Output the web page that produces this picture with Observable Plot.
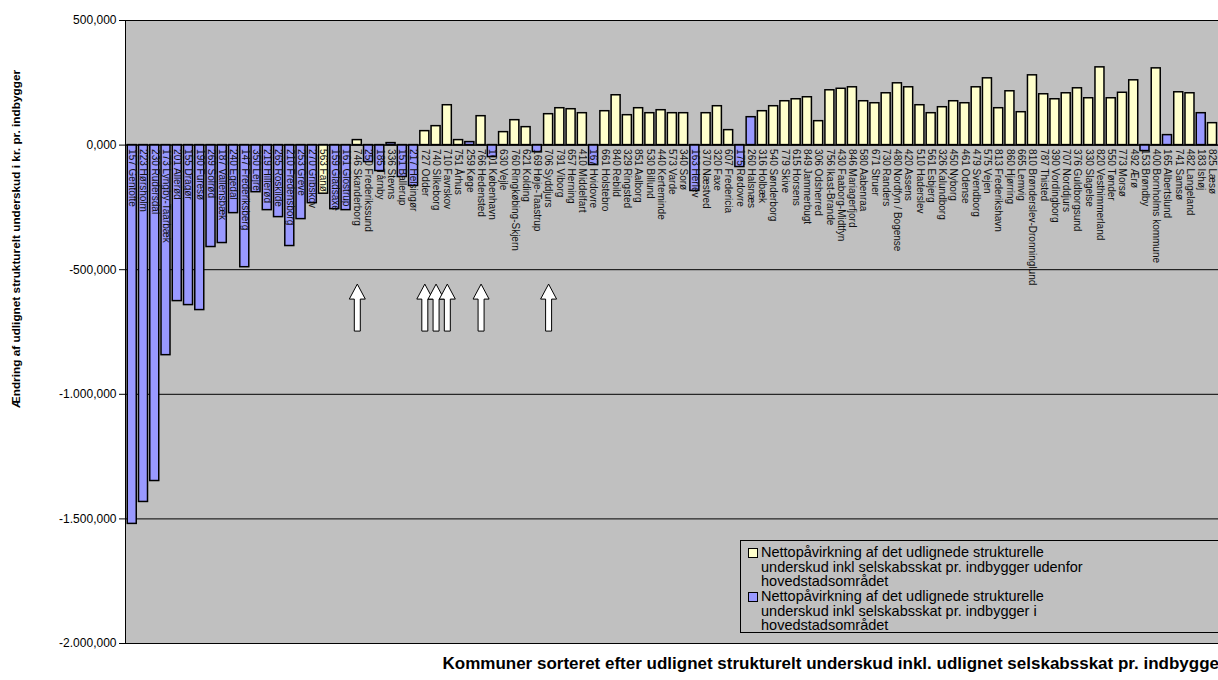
<!DOCTYPE html>
<html><head><meta charset="utf-8">
<script src="https://cdn.jsdelivr.net/npm/d3@7"></script>
<script src="https://cdn.jsdelivr.net/npm/@observablehq/plot@0.6"></script>
<style>
html,body{margin:0;padding:0;background:#fff;overflow:hidden;width:1218px;height:680px}
#wrap{position:relative;width:1240px;height:680px;font-family:"Liberation Sans",Arial,sans-serif}
#wrap svg{max-width:none !important;display:block}
#legend{position:absolute;left:740px;top:540px;width:500px;height:91px;border:1px solid #000;font-size:14.5px;line-height:14.5px;color:#000}
.item{position:absolute;left:7px;}
.sw{position:absolute;left:0;top:3px;width:8px;height:8px;border:1px solid #000}
.tx{position:absolute;left:13px;top:0;white-space:nowrap}
</style></head>
<body><div id="wrap"></div>
<script>
const municipalities = ["157 Gentofte","223 Hørsholm","230 Rudersdal","173 Lyngby-Taarbæk","201 Allerød","155 Dragør","190 Furesø","269 Solrød","187 Vallensbæk","240 Egedal","147 Frederiksberg","350 Lejre","219 Hillerød","265 Roskilde","210 Fredensborg","253 Greve","270 Gribskov","563 Fanø","159 Gladsaxe","161 Glostrup","746 Skanderborg","250 Frederikssund","185 Tårnby","336 Stevns","151 Ballerup","217 Helsingør","727 Odder","740 Silkeborg","710 Favrskov","751 Århus","259 Køge","766 Hedensted","101 København","630 Vejle","760 Ringkøbing-Skjern","621 Kolding","169 Høje-Taastrup","706 Syddjurs","791 Viborg","657 Herning","410 Middelfart","167 Hvidovre","661 Holstebro","840 Rebild","329 Ringsted","851 Aalborg","530 Billund","440 Kerteminde","573 Varde","340 Sorø","163 Herlev","370 Næstved","320 Faxe","607 Fredericia","175 Rødovre","260 Halsnæs","316 Holbæk","540 Sønderborg","779 Skive","615 Horsens","849 Jammerbugt","306 Odsherred","756 Ikast-Brande","430 Faaborg-Midtfyn","846 Mariagerfjord","580 Aabenraa","671 Struer","730 Randers","480 Nordfyn / Bogense","420 Assens","510 Haderslev","561 Esbjerg","326 Kalundborg","450 Nyborg","461 Odense","479 Svendborg","575 Vejen","813 Frederikshavn","860 Hjørring","665 Lemvig","810 Brønderslev-Dronninglund","787 Thisted","390 Vordingborg","707 Norddjurs","376 Guldborgsund","330 Slagelse","820 Vesthimmerland","550 Tønder","773 Morsø","492 Ærø","153 Brøndby","400 Bornholms kommune","165 Albertslund","741 Samsø","482 Langeland","183 Ishøj","825 Læsø"];
const values = [-1520000,-1432000,-1348000,-843000,-626000,-642000,-662000,-409000,-393000,-273000,-490000,-189000,-261000,-289000,-405000,-297000,-233000,-195000,-257000,-261000,20000,-68000,-104000,8000,-128000,-164000,56000,76000,160000,20000,12000,116000,-48000,52000,100000,72000,-28000,124000,148000,144000,128000,-80000,136000,200000,120000,148000,128000,140000,128000,128000,-184000,128000,156000,60000,-88000,112000,136000,156000,176000,184000,192000,96000,220000,226000,232000,176000,168000,208000,248000,232000,160000,128000,152000,176000,168000,232000,268000,148000,216000,132000,280000,204000,184000,208000,228000,188000,312000,188000,210000,260000,-24000,308000,40000,212000,208000,128000,88000];
// municipalities in hovedstadsområdet (blue)
const capitalArea = ["157 Gentofte","223 Hørsholm","230 Rudersdal","173 Lyngby-Taarbæk","201 Allerød","155 Dragør","190 Furesø","269 Solrød","187 Vallensbæk","240 Egedal","147 Frederiksberg","350 Lejre","219 Hillerød","265 Roskilde","210 Fredensborg","253 Greve","270 Gribskov","159 Gladsaxe","161 Glostrup","250 Frederikssund","185 Tårnby","336 Stevns","151 Ballerup","217 Helsingør","259 Køge","101 København","169 Høje-Taastrup","167 Hvidovre","163 Herlev","175 Rødovre","260 Halsnæs","153 Brøndby","165 Albertslund","183 Ishøj"];
// last category lies beyond the visible edge of the picture
const clippedCategories = ["360 Lolland"];
const arrowMunicipalities = ["746 Skanderborg","727 Odder","740 Silkeborg","710 Favrskov","766 Hedensted","706 Syddjurs"];
const arrowLevel = -650000;
const yTickValues = [500000,0,-500000,-1000000,-1500000,-2000000];
const yTickLabels = ["500,000","0,000","-500,000","-1.000,000","-1.500,000","-2.000,000"];
const yTitle = "Ændring af udlignet strukturelt underskud i kr. pr. indbygger";
const xTitle = "Kommuner sorteret efter udlignet strukturelt underskud inkl. udlignet selskabsskat pr. indbygger";
const legendLabels = [
  ["Nettopåvirkning af det udlignede strukturelle","underskud inkl selskabsskat pr. indbygger udenfor","hovedstadsområdet"],
  ["Nettopåvirkning af det udlignede strukturelle","underskud inkl selskabsskat pr. indbygger i","hovedstadsområdet"]
];
const colOut = "#ffffcc", colCap = "#9999ff";

const capSet = new Set(capitalArea);
const data = municipalities.map((m,i)=>({m, v: values[i], g: capSet.has(m) ? "cap" : "out"}));
const arrows = arrowMunicipalities.map(m=>({m, v: arrowLevel}));
const arrowSymbol = {draw(ctx){
  ctx.moveTo(0,-23); ctx.lineTo(8,-8); ctx.lineTo(3,-8); ctx.lineTo(3,24);
  ctx.lineTo(-3,24); ctx.lineTo(-3,-8); ctx.lineTo(-8,-8); ctx.closePath();
}};
const font = "Liberation Sans, Arial, sans-serif";

const chart = Plot.plot({
  width: 1230, height: 680,
  marginLeft: 125, marginRight: 0, marginTop: 20, marginBottom: 37,
  style: {fontFamily: font, background: "#fff", maxWidth: "none"},
  x: {domain: [...municipalities, ...clippedCategories], padding: 0.2, round: false, axis: null},
  y: {domain: [-2000000, 500000], axis: null},
  color: {domain: ["out","cap"], range: [colOut, colCap]},
  marks: [
    Plot.frame({fill: "#c0c0c0", stroke: null}),
    Plot.ruleY(yTickValues, {stroke: "#000", strokeWidth: 1}),
    Plot.barY(data, {x: "m", y: "v", fill: "g", stroke: "#000", strokeWidth: 1.5}),
    Plot.ruleY([0], {stroke: "#000"}),
    Plot.text(data, {x: "m", y: 0, text: "m", rotate: 90, textAnchor: "start", dy: 4, fontSize: 10, fill: "#111"}),
    Plot.dot(arrows, {x: "m", y: "v", symbol: arrowSymbol, fill: "#fff", stroke: "#000", strokeWidth: 1}),
    Plot.axisY({ticks: yTickValues, tickFormat: d => yTickLabels[yTickValues.indexOf(d)], tickSize: 6, tickPadding: 3, fontSize: 12, label: null, stroke: "#000", fill: "#000"}),
    Plot.frame({anchor: "left", stroke: "#000"}),
    Plot.text([yTitle], {frameAnchor: "left", textAnchor: "middle", rotate: -90, dx: -109, dy: -93, fontSize: 11.8, fontWeight: "bold", fill: "#000"}),
    Plot.text([xTitle], {frameAnchor: "bottom-left", textAnchor: "start", dx: 317, dy: 25, fontSize: 17, fontWeight: "bold", fill: "#000"})
  ]
});
const wrap = document.getElementById("wrap");
wrap.appendChild(chart);

const lg = document.createElement("div");
lg.id = "legend";
const tops = [4, 48];
legendLabels.forEach((lines, k) => {
  const it = document.createElement("div");
  it.className = "item"; it.style.top = tops[k] + "px";
  const sw = document.createElement("div"); sw.className = "sw"; sw.style.background = k === 0 ? colOut : colCap;
  const tx = document.createElement("div"); tx.className = "tx"; tx.innerHTML = lines.join("<br>");
  it.appendChild(sw); it.appendChild(tx); lg.appendChild(it);
});
wrap.appendChild(lg);
</script></body></html>
